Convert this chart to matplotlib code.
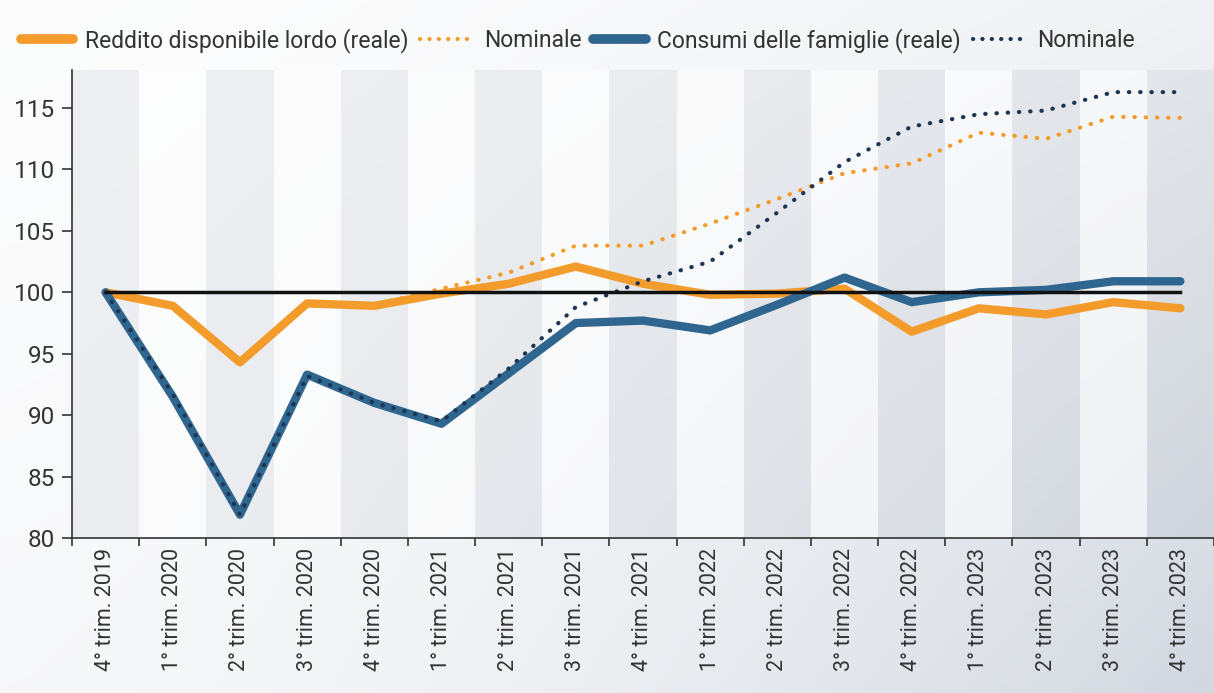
import numpy as np
import matplotlib
matplotlib.use('Agg')
import matplotlib.pyplot as plt
from matplotlib.lines import Line2D

plt.rcParams['font.family'] = ['Roboto', 'DejaVu Sans']

# quarters
labels = ['4° trim. 2019', '1° trim. 2020', '2° trim. 2020', '3° trim. 2020', '4° trim. 2020',
          '1° trim. 2021', '2° trim. 2021', '3° trim. 2021', '4° trim. 2021',
          '1° trim. 2022', '2° trim. 2022', '3° trim. 2022', '4° trim. 2022',
          '1° trim. 2023', '2° trim. 2023', '3° trim. 2023', '4° trim. 2023']

# indici (4° trim. 2019 = 100)
reddito_reale = [100, 98.9, 94.3, 99.1, 98.9, 99.9, 100.7, 102.1, 100.7,
                 99.8, 99.9, 100.3, 96.8, 98.7, 98.2, 99.2, 98.7]
reddito_nominale = [100, 99.0, 94.5, 99.0, 99.0, 100.3, 101.6, 103.8, 103.8,
                    105.6, 107.6, 109.7, 110.5, 113.0, 112.5, 114.3, 114.2]
consumi_reale = [100, 91.5, 81.9, 93.3, 91.0, 89.3, 93.4, 97.5, 97.7,
                 96.9, 99.0, 101.2, 99.2, 100.0, 100.2, 100.9, 100.9]
consumi_nominale = [100, 91.7, 81.9, 93.2, 91.0, 89.5, 93.8, 98.8, 100.9,
                    102.5, 106.5, 110.6, 113.5, 114.5, 114.8, 116.3, 116.3]

orange = '#F39C2C'
blue = '#2F6690'
navy = '#1E3552'

fig = plt.figure(figsize=(12.14, 6.93), dpi=100)

# sfondo sfumato
bg = fig.add_axes([0, 0, 1, 1], zorder=-10)
xx, yy = np.meshgrid(np.linspace(0, 1, 300), np.linspace(0, 1, 200))
t = np.clip(0.55 * xx ** 1.6 * (0.35 + 0.65 * yy) + 0.08 * yy + 0.04, 0, 1)
c0 = np.array([1.0, 1.0, 1.0])
c1 = np.array([0.74, 0.77, 0.82])
img = c0[None, None, :] * (1 - t[..., None]) + c1[None, None, :] * t[..., None]
bg.imshow(img, aspect='auto', extent=[0, 1, 0, 1], origin='upper')
bg.set_axis_off()

ax = fig.add_axes([72 / 1214, 1 - 538 / 693, 1142 / 1214, 468 / 693])
ax.set_facecolor('none')

x = np.arange(len(labels))
for i in x:
    if i % 2 == 0:
        ax.axvspan(i - 0.5, i + 0.5, color='#9AA2B0', alpha=0.13, lw=0, zorder=0)
    else:
        ax.axvspan(i - 0.5, i + 0.5, color='white', alpha=0.55, lw=0, zorder=0)

ax.plot(x, reddito_nominale, color=orange, lw=3, ls=(0, (0.1, 2.6)),
        dash_capstyle='round', zorder=2)
ax.plot(x, reddito_reale, color=orange, lw=6, solid_capstyle='round', zorder=3)
ax.plot(x, consumi_reale, color=blue, lw=6, solid_capstyle='round', zorder=4)
ax.plot(x, consumi_nominale, color=navy, lw=3, ls=(0, (0.1, 2.6)),
        dash_capstyle='round', zorder=5)
ax.plot([x[0], x[-1]], [100, 100], color='#111111', lw=2.5, zorder=6)

ax.set_xlim(-0.5, len(labels) - 0.5)
ax.set_ylim(80, 118.1)
ax.set_yticks(np.arange(80, 116, 5))
ax.set_xticks(np.arange(-0.5, len(labels), 1))
ax.set_xticklabels([])
ax.set_xticks(x, minor=True)
ax.set_xticklabels(labels, minor=True, rotation=90, fontsize=15.5, color='#333333')
ax.tick_params(axis='x', which='minor', length=0, pad=7)
ax.tick_params(axis='x', which='major', length=6, width=1.2, color='#333333')
ax.tick_params(axis='y', length=7, width=1.2, color='#333333', labelsize=17.5,
               labelcolor='#333333', pad=5)
for s in ['top', 'right']:
    ax.spines[s].set_visible(False)
for s in ['left', 'bottom']:
    ax.spines[s].set_color('#333333')
    ax.spines[s].set_linewidth(1.2)

handles = [
    Line2D([], [], color=orange, lw=7, solid_capstyle='round'),
    Line2D([], [], color=orange, lw=3, ls=(0, (0.05, 2.2)), dash_capstyle='round'),
    Line2D([], [], color=blue, lw=7, solid_capstyle='round'),
    Line2D([], [], color=navy, lw=3, ls=(0, (0.05, 2.2)), dash_capstyle='round'),
]
names = ['Reddito disponibile lordo (reale)', 'Nominale',
         'Consumi delle famiglie (reale)', 'Nominale']
fig.legend(handles, names, loc='center left', bbox_to_anchor=(0.0, 0.942), ncol=4,
           frameon=False, fontsize=16.5, handlelength=2.3, handletextpad=0.5,
           columnspacing=0.5, labelcolor='#333333')

fig.savefig('out.png', dpi=100)
